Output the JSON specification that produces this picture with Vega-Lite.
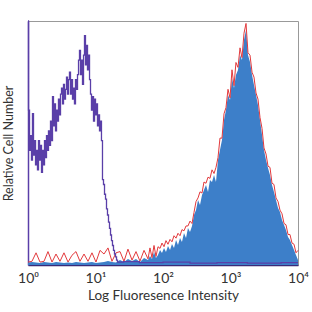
{
  "$schema": "https://vega.github.io/schema/vega-lite/v6.json",
  "width": 270,
  "height": 244,
  "autosize": {"type": "none"},
  "padding": {"left": 28, "top": 21, "right": 14, "bottom": 47},
  "background": "white",
  "config": {
    "view": {"stroke": "#999999", "strokeWidth": 1},
    "font": "Lato"
  },
  "datasets": {
    "sample": [
      {"logI": 0, "blue": 1.0, "red": 1.2},
      {"logI": 0.059, "blue": 1.2, "red": 1.5},
      {"logI": 0.119, "blue": 1.0, "red": 5.0},
      {"logI": 0.178, "blue": 0.8, "red": 1.2},
      {"logI": 0.237, "blue": 1.2, "red": 1.5},
      {"logI": 0.296, "blue": 1.0, "red": 5.5},
      {"logI": 0.356, "blue": 0.8, "red": 1.2},
      {"logI": 0.415, "blue": 1.2, "red": 4.5},
      {"logI": 0.474, "blue": 1.0, "red": 1.5},
      {"logI": 0.533, "blue": 0.8, "red": 5.0},
      {"logI": 0.593, "blue": 1.0, "red": 1.2},
      {"logI": 0.652, "blue": 0.8, "red": 4.0},
      {"logI": 0.711, "blue": 1.2, "red": 5.5},
      {"logI": 0.770, "blue": 1.0, "red": 1.5},
      {"logI": 0.830, "blue": 0.8, "red": 4.5},
      {"logI": 0.889, "blue": 1.0, "red": 1.5},
      {"logI": 0.948, "blue": 1.2, "red": 5.0},
      {"logI": 1.007, "blue": 0.8, "red": 1.2},
      {"logI": 1.067, "blue": 1.0, "red": 6.0},
      {"logI": 1.126, "blue": 1.2, "red": 4.5},
      {"logI": 1.185, "blue": 1.6, "red": 7.0},
      {"logI": 1.244, "blue": 1.2, "red": 1.5},
      {"logI": 1.304, "blue": 1.0, "red": 5.0},
      {"logI": 1.363, "blue": 2.0, "red": 5.5},
      {"logI": 1.422, "blue": 1.2, "red": 1.5},
      {"logI": 1.481, "blue": 2.5, "red": 6.5},
      {"logI": 1.541, "blue": 1.6, "red": 2.0},
      {"logI": 1.6, "blue": 2.5, "red": 5.5},
      {"logI": 1.659, "blue": 1.2, "red": 1.6},
      {"logI": 1.719, "blue": 2.9, "red": 6.0},
      {"logI": 1.778, "blue": 2.0, "red": 2.5},
      {"logI": 1.807, "blue": 3.7, "red": 7.0},
      {"logI": 1.837, "blue": 2.5, "red": 3.0},
      {"logI": 1.867, "blue": 5.3, "red": 8.0},
      {"logI": 1.896, "blue": 2.9, "red": 3.5},
      {"logI": 1.926, "blue": 4.1, "red": 7.5},
      {"logI": 1.956, "blue": 6.1, "red": 6.8},
      {"logI": 1.985, "blue": 4.9, "red": 9.0},
      {"logI": 2.015, "blue": 7.0, "red": 7.5},
      {"logI": 2.044, "blue": 5.3, "red": 10.0},
      {"logI": 2.074, "blue": 7.8, "red": 8.5},
      {"logI": 2.104, "blue": 6.1, "red": 10.5},
      {"logI": 2.133, "blue": 8.6, "red": 9.5},
      {"logI": 2.163, "blue": 7.0, "red": 12.0},
      {"logI": 2.193, "blue": 10.2, "red": 11.0},
      {"logI": 2.222, "blue": 8.2, "red": 13.0},
      {"logI": 2.252, "blue": 11.1, "red": 12.0},
      {"logI": 2.281, "blue": 9.4, "red": 14.5},
      {"logI": 2.311, "blue": 13.1, "red": 14.0},
      {"logI": 2.341, "blue": 11.1, "red": 16.0},
      {"logI": 2.370, "blue": 15.2, "red": 16.0},
      {"logI": 2.4, "blue": 13.5, "red": 18.0},
      {"logI": 2.430, "blue": 16.0, "red": 17.0},
      {"logI": 2.459, "blue": 20.5, "red": 21.5},
      {"logI": 2.489, "blue": 22.5, "red": 26.0},
      {"logI": 2.519, "blue": 26.6, "red": 27.5},
      {"logI": 2.548, "blue": 24.6, "red": 30.0},
      {"logI": 2.578, "blue": 28.7, "red": 29.5},
      {"logI": 2.607, "blue": 30.7, "red": 34.0},
      {"logI": 2.637, "blue": 32.8, "red": 33.5},
      {"logI": 2.667, "blue": 29.9, "red": 36.0},
      {"logI": 2.696, "blue": 34.8, "red": 35.5},
      {"logI": 2.726, "blue": 34.0, "red": 39.0},
      {"logI": 2.756, "blue": 36.9, "red": 37.5},
      {"logI": 2.785, "blue": 34.0, "red": 40.0},
      {"logI": 2.815, "blue": 43.0, "red": 44.0},
      {"logI": 2.844, "blue": 47.1, "red": 52.0},
      {"logI": 2.874, "blue": 51.2, "red": 52.0},
      {"logI": 2.904, "blue": 59.4, "red": 62.0},
      {"logI": 2.933, "blue": 63.5, "red": 64.5},
      {"logI": 2.963, "blue": 69.7, "red": 72.0},
      {"logI": 2.993, "blue": 67.6, "red": 68.5},
      {"logI": 3.022, "blue": 76.6, "red": 80.0},
      {"logI": 3.052, "blue": 72.5, "red": 73.5},
      {"logI": 3.081, "blue": 77.9, "red": 83.0},
      {"logI": 3.111, "blue": 79.9, "red": 81.0},
      {"logI": 3.141, "blue": 86.1, "red": 89.0},
      {"logI": 3.170, "blue": 84.0, "red": 85.0},
      {"logI": 3.2, "blue": 92.2, "red": 95.0},
      {"logI": 3.230, "blue": 96.3, "red": 99.0},
      {"logI": 3.259, "blue": 86.1, "red": 87.0},
      {"logI": 3.289, "blue": 83.2, "red": 86.0},
      {"logI": 3.319, "blue": 77.9, "red": 79.0},
      {"logI": 3.348, "blue": 73.8, "red": 77.0},
      {"logI": 3.378, "blue": 69.7, "red": 70.5},
      {"logI": 3.407, "blue": 65.6, "red": 68.0},
      {"logI": 3.437, "blue": 59.4, "red": 60.5},
      {"logI": 3.467, "blue": 53.3, "red": 56.0},
      {"logI": 3.496, "blue": 47.1, "red": 48.0},
      {"logI": 3.526, "blue": 43.0, "red": 45.5},
      {"logI": 3.556, "blue": 39.8, "red": 40.5},
      {"logI": 3.585, "blue": 36.9, "red": 40.0},
      {"logI": 3.615, "blue": 32.8, "red": 33.5},
      {"logI": 3.644, "blue": 29.9, "red": 33.0},
      {"logI": 3.674, "blue": 26.6, "red": 27.5},
      {"logI": 3.704, "blue": 23.4, "red": 26.0},
      {"logI": 3.733, "blue": 21.7, "red": 22.5},
      {"logI": 3.763, "blue": 18.4, "red": 21.0},
      {"logI": 3.793, "blue": 16.4, "red": 17.0},
      {"logI": 3.822, "blue": 14.3, "red": 16.5},
      {"logI": 3.852, "blue": 11.5, "red": 12.5},
      {"logI": 3.881, "blue": 10.2, "red": 12.5},
      {"logI": 3.911, "blue": 8.2, "red": 9.0},
      {"logI": 3.941, "blue": 6.1, "red": 8.5},
      {"logI": 3.970, "blue": 4.1, "red": 5.0},
      {"logI": 4.0, "blue": 2.0, "red": 6.0}
    ],
    "isotype": [
      {"logI": 0, "count": 100},
      {"logI": 0.015, "count": 63.5},
      {"logI": 0.03, "count": 47},
      {"logI": 0.044, "count": 53},
      {"logI": 0.059, "count": 43},
      {"logI": 0.074, "count": 62},
      {"logI": 0.089, "count": 45},
      {"logI": 0.104, "count": 51},
      {"logI": 0.119, "count": 41},
      {"logI": 0.133, "count": 47},
      {"logI": 0.148, "count": 39},
      {"logI": 0.163, "count": 51},
      {"logI": 0.178, "count": 43},
      {"logI": 0.193, "count": 49},
      {"logI": 0.207, "count": 38},
      {"logI": 0.222, "count": 47},
      {"logI": 0.237, "count": 41},
      {"logI": 0.252, "count": 51},
      {"logI": 0.267, "count": 44},
      {"logI": 0.281, "count": 53},
      {"logI": 0.296, "count": 47},
      {"logI": 0.311, "count": 55},
      {"logI": 0.326, "count": 49},
      {"logI": 0.341, "count": 59},
      {"logI": 0.356, "count": 51},
      {"logI": 0.370, "count": 69},
      {"logI": 0.385, "count": 57},
      {"logI": 0.4, "count": 66},
      {"logI": 0.415, "count": 55},
      {"logI": 0.43, "count": 63.5},
      {"logI": 0.444, "count": 59},
      {"logI": 0.459, "count": 68},
      {"logI": 0.474, "count": 61.5},
      {"logI": 0.489, "count": 70},
      {"logI": 0.504, "count": 72.5},
      {"logI": 0.519, "count": 66},
      {"logI": 0.533, "count": 74},
      {"logI": 0.548, "count": 68},
      {"logI": 0.563, "count": 72},
      {"logI": 0.578, "count": 77},
      {"logI": 0.593, "count": 70},
      {"logI": 0.607, "count": 76},
      {"logI": 0.622, "count": 79},
      {"logI": 0.637, "count": 70},
      {"logI": 0.652, "count": 76},
      {"logI": 0.667, "count": 68},
      {"logI": 0.681, "count": 72.5},
      {"logI": 0.696, "count": 66},
      {"logI": 0.711, "count": 76},
      {"logI": 0.726, "count": 72},
      {"logI": 0.741, "count": 78},
      {"logI": 0.756, "count": 84},
      {"logI": 0.77, "count": 88},
      {"logI": 0.785, "count": 78},
      {"logI": 0.8, "count": 84},
      {"logI": 0.815, "count": 74},
      {"logI": 0.83, "count": 86},
      {"logI": 0.844, "count": 94},
      {"logI": 0.859, "count": 82},
      {"logI": 0.874, "count": 90},
      {"logI": 0.889, "count": 80},
      {"logI": 0.904, "count": 86},
      {"logI": 0.919, "count": 76},
      {"logI": 0.933, "count": 70},
      {"logI": 0.948, "count": 63.5},
      {"logI": 0.963, "count": 69},
      {"logI": 0.978, "count": 59},
      {"logI": 0.993, "count": 68},
      {"logI": 1.007, "count": 61.5},
      {"logI": 1.022, "count": 66},
      {"logI": 1.037, "count": 57},
      {"logI": 1.052, "count": 61.5},
      {"logI": 1.067, "count": 55},
      {"logI": 1.081, "count": 59},
      {"logI": 1.096, "count": 51},
      {"logI": 1.111, "count": 35},
      {"logI": 1.126, "count": 33},
      {"logI": 1.141, "count": 29},
      {"logI": 1.156, "count": 27},
      {"logI": 1.17, "count": 23},
      {"logI": 1.185, "count": 20.5},
      {"logI": 1.2, "count": 17.6},
      {"logI": 1.215, "count": 15},
      {"logI": 1.23, "count": 12.3},
      {"logI": 1.244, "count": 10},
      {"logI": 1.259, "count": 8},
      {"logI": 1.274, "count": 6},
      {"logI": 1.289, "count": 4.5},
      {"logI": 1.304, "count": 3.3},
      {"logI": 1.319, "count": 2},
      {"logI": 1.333, "count": 1.2},
      {"logI": 1.5, "count": 1.4},
      {"logI": 1.8, "count": 1.0},
      {"logI": 2.2, "count": 1.2},
      {"logI": 2.6, "count": 0.8},
      {"logI": 3.0, "count": 1.0},
      {"logI": 3.5, "count": 0.8},
      {"logI": 4.0, "count": 1.0}
    ]
  },
  "encoding": {
    "x": {
      "field": "logI",
      "type": "quantitative",
      "scale": {"domain": [0, 4], "nice": false, "zero": false},
      "axis": {
        "title": "Log Fluoresence Intensity",
        "values": [0, 1, 2, 3, 4],
        "labelExpr": "datum.value == 0 ? '10⁰' : datum.value == 1 ? '10¹' : datum.value == 2 ? '10²' : datum.value == 3 ? '10³' : '10⁴'",
        "ticks": false,
        "grid": false,
        "domainColor": "#3a2a78",
        "domainWidth": 1.5,
        "labelFontSize": 14,
        "labelColor": "#333333",
        "labelPadding": 6,
        "labelFlush": false,
        "titleFontSize": 13.5,
        "titleFontWeight": "normal",
        "titleColor": "#333333",
        "titlePadding": 3
      }
    }
  },
  "layer": [
    {
      "data": {"name": "sample"},
      "mark": {"type": "area", "color": "#3d7fc9", "opacity": 1},
      "encoding": {
        "y": {
          "field": "blue",
          "type": "quantitative",
          "scale": {"domain": [0, 100], "nice": false},
          "axis": {
            "title": "Relative Cell Number",
            "labels": false,
            "ticks": false,
            "grid": false,
            "domainColor": "#5a3fa8",
            "domainWidth": 1.5,
            "titleFontSize": 12.5,
            "titleFontWeight": "normal",
            "titleColor": "#333333",
            "titlePadding": 13
          }
        }
      }
    },
    {
      "data": {"name": "sample"},
      "mark": {"type": "line", "color": "#e2393c", "strokeWidth": 1},
      "encoding": {
        "y": {"field": "red", "type": "quantitative"}
      }
    },
    {
      "data": {"name": "isotype"},
      "mark": {"type": "line", "color": "#5a3fa8", "strokeWidth": 1.3, "interpolate": "step"},
      "encoding": {
        "y": {"field": "count", "type": "quantitative"}
      }
    }
  ]
}
